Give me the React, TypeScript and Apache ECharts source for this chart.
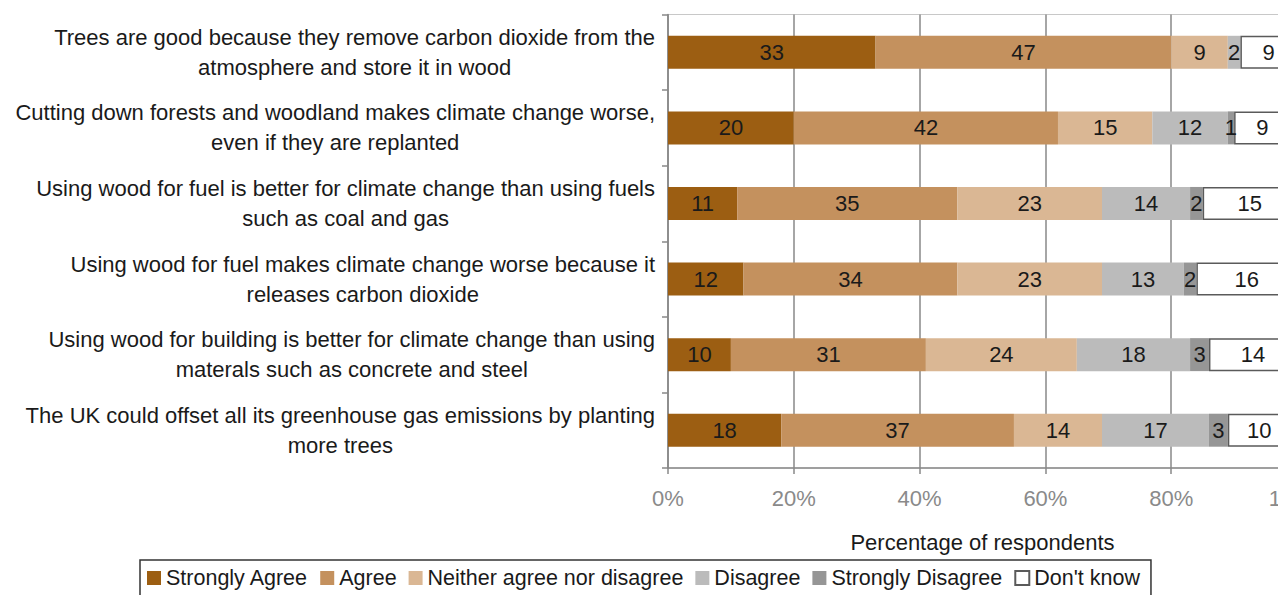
import React, { useEffect, useRef } from "react";
import * as echarts from "echarts";

// Survey statements (top to bottom), with their two-line wrapping
const categories: string[] = [
  "Trees are good because they remove carbon dioxide from the\natmosphere and store it in wood",
  "Cutting down forests and woodland makes climate change worse,\neven if they are replanted",
  "Using wood for fuel is better for climate change than using fuels\nsuch as coal and gas",
  "Using wood for fuel makes climate change worse because it\nreleases carbon dioxide",
  "Using wood for building is better for climate change than using\nmaterals such as concrete and steel",
  "The UK could offset all its greenhouse gas emissions by planting\nmore trees",
];

const seriesNames: string[] = [
  "Strongly Agree",
  "Agree",
  "Neither agree nor disagree",
  "Disagree",
  "Strongly Disagree",
  "Don't know",
];

// Percentage of respondents per answer, one value per statement
const stronglyAgree: number[] = [33, 20, 11, 12, 10, 18];
const agree: number[] = [47, 42, 35, 34, 31, 37];
const neither: number[] = [9, 15, 23, 23, 24, 14];
const disagree: number[] = [2, 12, 14, 13, 18, 17];
const stronglyDisagree: number[] = [0, 1, 2, 2, 3, 3];
const dontKnow: number[] = [9, 9, 15, 16, 14, 10];

const xTicks: number[] = [0, 20, 40, 60, 80, 100];

const colors: string[] = ["#9c5e12", "#c4915e", "#dab794", "#bbbbbb", "#969696", "#ffffff"];

const FONT = "'Liberation Sans', Arial, Helvetica, sans-serif";

export default function App() {
  const ref = useRef<HTMLDivElement>(null);

  useEffect(() => {
    if (!ref.current) return;
    const chart = echarts.init(ref.current, undefined, { renderer: "svg" });
    const values = [stronglyAgree, agree, neither, disagree, stronglyDisagree, dontKnow];

    const series = seriesNames.map((name, i) => ({
      name,
      type: "bar" as const,
      stack: "total",
      barWidth: 33,
      data: values[i],
      itemStyle:
        i === 5
          ? { color: colors[i], borderColor: "#5a5a5a", borderWidth: 1.5 }
          : { color: colors[i] },
      label: {
        show: true,
        position: "inside" as const,
        color: "#1a1a1a",
        fontSize: 22,
        fontFamily: FONT,
        formatter: (p: any) => (p.value > 0 ? String(p.value) : ""),
      },
    }));

    chart.setOption({
      animation: false,
      backgroundColor: "#ffffff",
      textStyle: { fontFamily: FONT },
      grid: {
        left: 668,
        top: 14.5,
        width: 629,
        height: 453.5,
        show: true,
        borderColor: "#c8c8c8",
        borderWidth: 1,
      },
      legend: {
        data: seriesNames,
        left: 140,
        top: 560,
        icon: "rect",
        itemWidth: 14,
        itemHeight: 14,
        itemGap: 12,
        padding: [7, 11, 7, 7],
        borderColor: "#333333",
        borderWidth: 1.5,
        textStyle: { fontSize: 21.5, color: "#1a1a1a", fontFamily: FONT },
      },
      xAxis: {
        type: "value",
        min: xTicks[0],
        max: xTicks[xTicks.length - 1],
        interval: xTicks[1] - xTicks[0],
        name: "Percentage of respondents",
        nameLocation: "middle",
        nameGap: 63,
        nameTextStyle: { fontSize: 22, color: "#1a1a1a", fontFamily: FONT },
        axisLine: { show: true, lineStyle: { color: "#888888", width: 1.5 } },
        axisTick: { show: true, length: 6, lineStyle: { color: "#888888", width: 1.5 } },
        axisLabel: {
          formatter: "{value}%",
          fontSize: 22,
          color: "#8a8a8a",
          fontFamily: FONT,
          margin: 19,
        },
        splitLine: { show: true, lineStyle: { color: "#888888", width: 1.5 } },
      },
      yAxis: {
        type: "category",
        inverse: true,
        data: categories,
        axisLine: { show: true, lineStyle: { color: "#888888", width: 1.5 } },
        axisTick: { show: true, length: 6, lineStyle: { color: "#888888", width: 1.5 } },
        axisLabel: {
          margin: 13,
          formatter: (v: string) =>
            v
              .split("\n")
              .map((line) => `{c|${line}}`)
              .join("\n"),
          rich: {
            c: {
              align: "center",
              fontSize: 22,
              lineHeight: 30,
              color: "#1a1a1a",
              fontFamily: FONT,
            },
          },
        },
        splitLine: { show: false },
      },
      series,
    });

    return () => chart.dispose();
  }, []);

  return (
    <div
      style={{
        position: "fixed",
        left: 0,
        top: 0,
        width: 1278,
        height: 595,
        overflow: "hidden",
        background: "#ffffff",
      }}
    >
      <div ref={ref} style={{ width: 1330, height: 595 }} />
    </div>
  );
}
